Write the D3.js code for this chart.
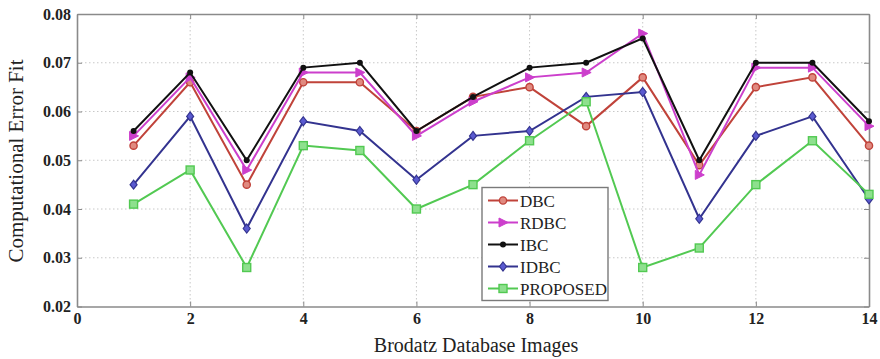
<!DOCTYPE html>
<html>
<head>
<meta charset="UTF-8">
<script src="https://d3js.org/d3.v7.min.js"></script>
<style>
  body { margin: 0; background: #fff; }
  svg text { font-family: "Liberation Serif", "DejaVu Serif", serif; fill: #222; }
</style>
</head>
<body>
<svg id="chart" width="880" height="359"></svg>
<script>
// data
var images = [1, 2, 3, 4, 5, 6, 7, 8, 9, 10, 11, 12, 13, 14];
var dbc      = [0.053, 0.066, 0.045, 0.066, 0.066, 0.056, 0.063, 0.065, 0.057, 0.067, 0.049, 0.065, 0.067, 0.053];
var rdbc     = [0.055, 0.067, 0.048, 0.068, 0.068, 0.055, 0.062, 0.067, 0.068, 0.076, 0.047, 0.069, 0.069, 0.057];
var ibc      = [0.056, 0.068, 0.050, 0.069, 0.070, 0.056, 0.063, 0.069, 0.070, 0.075, 0.050, 0.070, 0.070, 0.058];
var idbc     = [0.045, 0.059, 0.036, 0.058, 0.056, 0.046, 0.055, 0.056, 0.063, 0.064, 0.038, 0.055, 0.059, 0.042];
var proposed = [0.041, 0.048, 0.028, 0.053, 0.052, 0.040, 0.045, 0.054, 0.062, 0.028, 0.032, 0.045, 0.054, 0.043];
var seriesNames = ["DBC", "RDBC", "IBC", "IDBC", "PROPOSED"];
var xTicks = [0, 2, 4, 6, 8, 10, 12, 14];
var yTicks = [0.02, 0.03, 0.04, 0.05, 0.06, 0.07, 0.08];

var series = [
  { values: dbc, color: "#c0433a", marker: "circle" },
  { values: rdbc, color: "#cc3fcc", marker: "triangle" },
  { values: ibc, color: "#111111", marker: "dot" },
  { values: idbc, color: "#33338f", marker: "diamond" },
  { values: proposed, color: "#52c952", marker: "square" }
];

var svg = d3.select("#chart");
var pLeft = 77, pRight = 869, pTop = 14, pBottom = 306.5;

var x = d3.scaleLinear().domain([0, 14]).range([pLeft, pRight]);
var y = d3.scaleLinear().domain([0.02, 0.08]).range([pBottom, pTop]);

// grid
svg.append("g").selectAll("line")
  .data(xTicks.slice(1, -1)).enter().append("line")
  .attr("x1", function(d) { return x(d); }).attr("x2", function(d) { return x(d); })
  .attr("y1", pTop).attr("y2", pBottom)
  .attr("stroke", "#c8c8c8").attr("stroke-dasharray", "1.5,2.5").attr("stroke-width", 1);
svg.append("g").selectAll("line")
  .data(yTicks.slice(1, -1)).enter().append("line")
  .attr("y1", function(d) { return y(d); }).attr("y2", function(d) { return y(d); })
  .attr("x1", pLeft).attr("x2", pRight)
  .attr("stroke", "#c8c8c8").attr("stroke-dasharray", "1.5,2.5").attr("stroke-width", 1);

// axes (ticks pointing inward, MATLAB style)
var xAxis = d3.axisBottom(x).tickValues(xTicks).tickFormat(d3.format("d")).tickSizeInner(-5).tickSizeOuter(0).tickPadding(6);
var yAxis = d3.axisLeft(y).tickValues(yTicks).tickFormat(d3.format(".2f")).tickSizeInner(-5).tickSizeOuter(0).tickPadding(6);
var xTop = d3.axisTop(x).tickValues(xTicks).tickFormat("").tickSizeInner(-5).tickSizeOuter(0);
var yRight = d3.axisRight(y).tickValues(yTicks).tickFormat("").tickSizeInner(-5).tickSizeOuter(0);

[[xAxis, "translate(0," + pBottom + ")"], [yAxis, "translate(" + pLeft + ",0)"],
 [xTop, "translate(0," + pTop + ")"], [yRight, "translate(" + pRight + ",0)"]].forEach(function(a) {
  var g = svg.append("g").attr("transform", a[1]).call(a[0]);
  g.select(".domain").attr("stroke", "#8a8a8a").attr("stroke-width", 1.6);
  g.selectAll(".tick line").attr("stroke", "#8a8a8a");
  g.selectAll("text").style("font-size", "16px").style("font-weight", "bold")
    .style("font-family", "'Liberation Serif', serif").attr("fill", "#222");
});

// lines
var line = d3.line()
  .x(function(d, i) { return x(images[i]); })
  .y(function(d) { return y(d); });

function drawMarker(g, type, color, cx, cy) {
  if (type === "circle") {
    g.append("circle").attr("cx", cx).attr("cy", cy).attr("r", 3.6)
      .attr("fill", "#e08a80").attr("stroke", color).attr("stroke-width", 1.4);
  } else if (type === "triangle") {
    g.append("path").attr("d", "M" + (cx - 4) + "," + (cy - 4.5) + "L" + (cx + 5) + "," + cy + "L" + (cx - 4) + "," + (cy + 4.5) + "Z")
      .attr("fill", color).attr("stroke", color).attr("stroke-width", 1);
  } else if (type === "dot") {
    g.append("circle").attr("cx", cx).attr("cy", cy).attr("r", 3).attr("fill", color);
  } else if (type === "diamond") {
    g.append("path").attr("d", "M" + cx + "," + (cy - 4.5) + "L" + (cx + 3.5) + "," + cy + "L" + cx + "," + (cy + 4.5) + "L" + (cx - 3.5) + "," + cy + "Z")
      .attr("fill", "#5a5ad0").attr("stroke", color).attr("stroke-width", 1.2);
  } else if (type === "square") {
    g.append("rect").attr("x", cx - 4).attr("y", cy - 4).attr("width", 8).attr("height", 8)
      .attr("fill", "#8ee08e").attr("stroke", color).attr("stroke-width", 1.4);
  }
}

series.forEach(function(s) {
  var g = svg.append("g");
  g.append("path").datum(s.values).attr("d", line)
    .attr("fill", "none").attr("stroke", s.color).attr("stroke-width", 2);
  s.values.forEach(function(v, i) {
    drawMarker(g, s.marker, s.color, x(images[i]), y(v));
  });
});

// legend
var lg = svg.append("g").attr("transform", "translate(482,187.5)");
lg.append("rect").attr("width", 126).attr("height", 113)
  .attr("fill", "#fff").attr("stroke", "#7a7a7a").attr("stroke-width", 1.4);
series.forEach(function(s, i) {
  var ly = 13 + i * 22;
  lg.append("line").attr("x1", 6).attr("x2", 36).attr("y1", ly).attr("y2", ly)
    .attr("stroke", s.color).attr("stroke-width", 2);
  drawMarker(lg, s.marker, s.color, 21, ly);
  lg.append("text").attr("x", 38).attr("y", ly + 6)
    .style("font-size", "17px").text(seriesNames[i]);
});

// axis titles
svg.append("text").attr("x", 476).attr("y", 352)
  .attr("text-anchor", "middle").style("font-size", "20px").text("Brodatz Database Images");
svg.append("text").attr("transform", "translate(23,161) rotate(-90)")
  .attr("text-anchor", "middle").style("font-size", "21px").text("Computational Error Fit");
</script>
</body>
</html>
